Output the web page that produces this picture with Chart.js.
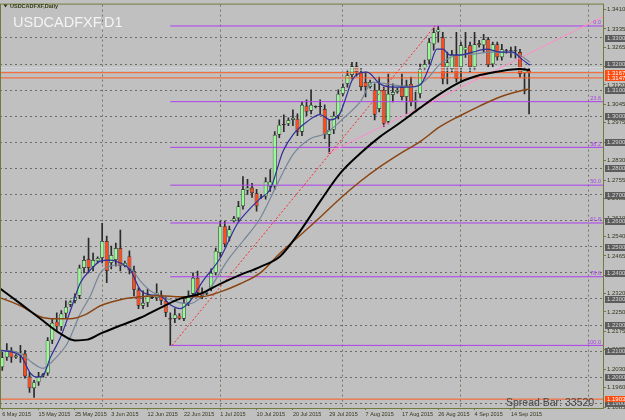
<!DOCTYPE html>
<html><head><meta charset="utf-8">
<script src="https://cdn.jsdelivr.net/npm/chart.js@4.4.1/dist/chart.umd.min.js"></script>
<style>html,body{margin:0;padding:0;background:#c0c0c0;overflow:hidden}canvas{display:block}</style>
</head><body>
<canvas id="c" width="625" height="420"></canvas>
<script>
// ---- candles (bar index 0 = 6 May 2015, daily incl. Sunday bars) ----
const openP = [1.2038,1.2076,1.2103,1.2076,1.2083,1.2091,1.2003,1.1958,1.1981,1.2003,
1.2015,1.2141,1.2213,1.2194,1.2244,1.2278,1.2293,1.2312,1.2419,1.2453,
1.2423,1.2445,1.2457,1.2522,1.2438,1.2449,1.2495,1.2426,1.2464,1.2407,
1.2335,1.2274,1.2285,1.2308,1.2304,1.2316,1.2293,1.2228,1.2224,1.2236,
1.2224,1.2285,1.2320,1.2381,1.2324,1.2320,1.2339,1.2400,1.2476,1.2579,
1.2537,1.2598,1.2609,1.2655,1.2716,1.2727,1.2705,1.2689,1.2693,1.2731,
1.2731,1.2929,1.2967,1.2971,1.2986,1.2990,1.2941,1.3040,1.3021,1.3036,
1.3036,1.3028,1.2929,1.2948,1.3002,1.3086,1.3124,1.3158,1.3192,1.3169,
1.3131,1.3112,1.3101,1.3028,1.3101,1.2979,1.3082,1.3093,1.3112,1.3074,
1.3124,1.3055,1.3086,1.3185,1.3215,1.3276,1.3322,1.3303,1.3188,1.3181,
1.3238,1.3188,1.3253,1.3272,1.3188,1.3280,1.3272,1.3295,1.3200,1.3276,
1.3226,1.3249,1.3249,1.3249,1.3246,1.3165,1.3177];
const highP = [1.2095,1.2129,1.2114,1.2087,1.2122,1.2103,1.2019,1.1988,1.2019,1.2015,
1.2152,1.2224,1.2247,1.2255,1.2293,1.2293,1.2320,1.2430,1.2464,1.2533,
1.2476,1.2461,1.2590,1.2541,1.2503,1.2514,1.2564,1.2445,1.2484,1.2426,
1.2343,1.2331,1.2339,1.2312,1.2358,1.2331,1.2308,1.2247,1.2263,1.2244,
1.2301,1.2331,1.2400,1.2407,1.2343,1.2327,1.2415,1.2495,1.2598,1.2598,
1.2579,1.2617,1.2674,1.2769,1.2758,1.2743,1.2720,1.2701,1.2765,1.2796,
1.2941,1.2986,1.3006,1.2994,1.3025,1.3009,1.3055,1.3063,1.3101,1.3040,
1.3063,1.3044,1.2986,1.3017,1.3101,1.3124,1.3177,1.3207,1.3207,1.3185,
1.3169,1.3139,1.3124,1.3150,1.3112,1.3162,1.3124,1.3108,1.3162,1.3139,
1.3150,1.3093,1.3200,1.3215,1.3299,1.3338,1.3346,1.3322,1.3246,1.3253,
1.3322,1.3284,1.3322,1.3284,1.3322,1.3291,1.3314,1.3303,1.3284,1.3284,
1.3276,1.3257,1.3265,1.3268,1.3257,1.3188,1.3185];
const lowP = [1.2026,1.2064,1.2057,1.2072,1.2057,1.1996,1.1942,1.1923,1.1969,1.2000,
1.2007,1.2129,1.2179,1.2179,1.2224,1.2270,1.2285,1.2301,1.2400,1.2400,
1.2407,1.2438,1.2438,1.2362,1.2415,1.2426,1.2407,1.2423,1.2396,1.2312,
1.2263,1.2263,1.2270,1.2301,1.2293,1.2278,1.2232,1.2122,1.2209,1.2221,
1.2217,1.2274,1.2308,1.2312,1.2301,1.2316,1.2331,1.2392,1.2461,1.2499,
1.2522,1.2594,1.2598,1.2644,1.2701,1.2689,1.2636,1.2685,1.2682,1.2712,
1.2720,1.2918,1.2941,1.2964,1.2964,1.2926,1.2926,1.3002,1.3009,1.3032,
1.3009,1.2914,1.2857,1.2933,1.2990,1.3078,1.3112,1.3143,1.3154,1.3101,
1.3074,1.3108,1.2986,1.3017,1.2960,1.2971,1.3055,1.3089,1.3063,1.3009,
1.3040,1.3017,1.3070,1.3177,1.3200,1.3253,1.3284,1.3124,1.3124,1.3169,
1.3131,1.3131,1.3226,1.3169,1.3177,1.3265,1.3246,1.3188,1.3188,1.3215,
1.3215,1.3242,1.3226,1.3223,1.3150,1.3086,1.3009];
const closeP = [1.2076,1.2103,1.2076,1.2083,1.2095,1.2003,1.1958,1.1981,1.2003,1.2011,
1.2141,1.2209,1.2194,1.2244,1.2270,1.2289,1.2308,1.2419,1.2449,1.2419,
1.2449,1.2457,1.2522,1.2407,1.2468,1.2495,1.2426,1.2438,1.2411,1.2335,
1.2274,1.2285,1.2316,1.2304,1.2324,1.2293,1.2247,1.2221,1.2240,1.2224,
1.2285,1.2312,1.2381,1.2324,1.2312,1.2324,1.2400,1.2484,1.2579,1.2510,
1.2567,1.2609,1.2655,1.2720,1.2727,1.2705,1.2655,1.2693,1.2750,1.2750,
1.2929,1.2967,1.2967,1.2986,1.2994,1.2941,1.3044,1.3017,1.3044,1.3036,
1.3036,1.2929,1.2948,1.3002,1.3086,1.3112,1.3158,1.3192,1.3169,1.3112,
1.3112,1.3131,1.3006,1.3101,1.2971,1.3086,1.3093,1.3101,1.3074,1.3120,
1.3055,1.3063,1.3181,1.3200,1.3284,1.3322,1.3333,1.3143,1.3207,1.3238,
1.3143,1.3272,1.3265,1.3188,1.3276,1.3272,1.3295,1.3196,1.3276,1.3226,
1.3257,1.3249,1.3249,1.3249,1.3162,1.3177,1.3167];

// ---- moving averages [bar index, price] ----
const maFast = [[-0.4,1.2103],[4,1.2083],[6.2,1.2015],[7.7,1.2000],[9,1.2007],[10.6,1.2076],[12.8,1.2152],[15,1.2255],[17.2,1.2362],[19.4,1.2411],[21.6,1.2445],[23.8,1.2449],[26,1.2438],[28.2,1.2411],[30.4,1.2335],[32.6,1.2316],[34.8,1.2312],[37,1.2278],[39.2,1.2263],[41.4,1.2293],[44.2,1.2369],[48,1.2457],[51.7,1.2586],[54.6,1.2647],[56.8,1.2685],[59,1.2720],[61.8,1.2865],[64,1.2929],[67.1,1.2979],[70,1.3006],[72.2,1.2986],[74.4,1.3012],[75.5,1.3063],[77.2,1.3143],[80.3,1.3169],[83.2,1.3124],[86,1.3112],[89.1,1.3112],[92,1.3120],[94.2,1.3196],[95.7,1.3257],[97,1.3257],[98.6,1.3234],[100.8,1.3234],[103.6,1.3246],[106.7,1.3257],[109.6,1.3246],[112.4,1.3246],[114.4,1.3219],[116.2,1.3196]];
const maSlow = [[-0.4,1.2103],[4,1.2091],[6.8,1.2053],[9,1.2034],[11.2,1.2064],[14.3,1.2129],[17.2,1.2244],[19.4,1.2312],[21.6,1.2400],[23.8,1.2426],[26,1.2430],[28.2,1.2419],[30.4,1.2369],[32.6,1.2331],[34.8,1.2312],[37,1.2297],[39.2,1.2285],[41.4,1.2282],[43.6,1.2304],[45.8,1.2343],[49.5,1.2445],[53,1.2522],[56.8,1.2609],[60.5,1.2739],[64,1.2853],[67.8,1.2914],[71.1,1.2933],[75.5,1.2998],[78.8,1.3055],[81.6,1.3131],[86,1.3120],[90.4,1.3112],[93.5,1.3143],[96.4,1.3200],[100.1,1.3234],[103.6,1.3238],[107.4,1.3246],[111.1,1.3246],[114,1.3234],[116.2,1.3207]];
const maBlack = [[-0.4,1.2339],[4,1.2282],[8.4,1.2224],[12.8,1.2167],[16,1.2141],[18.7,1.2144],[21.6,1.2167],[26,1.2198],[30.4,1.2228],[34.8,1.2266],[39.2,1.2301],[43.6,1.2320],[48,1.2358],[52.4,1.2392],[56.8,1.2423],[61.2,1.2464],[65.6,1.2560],[70,1.2674],[74.4,1.2781],[78.8,1.2857],[83.2,1.2922],[87.6,1.2975],[92,1.3032],[96.4,1.3086],[100.8,1.3131],[105.2,1.3158],[109.6,1.3173],[114,1.3181],[116.2,1.3177]];
const maBrown = [[-0.4,1.2304],[4,1.2274],[8.4,1.2232],[11.7,1.2224],[15,1.2224],[18.3,1.2240],[21.6,1.2274],[26,1.2297],[30.4,1.2308],[34.8,1.2312],[39.2,1.2308],[43.6,1.2308],[48,1.2327],[52.4,1.2358],[56.8,1.2400],[61.2,1.2476],[65.6,1.2544],[70,1.2613],[74.4,1.2685],[78.8,1.2750],[83.2,1.2807],[87.6,1.2857],[92,1.2903],[96.4,1.2960],[100.8,1.3002],[105.2,1.3040],[109.6,1.3074],[114,1.3097],[116.2,1.3105]];

// ---- objects ----
const fibLevels = [1.3346,1.3056,1.2881,1.2736,1.2591,1.2385,1.2122];
const fibNames = ['0.0','23.6','38.2','50.0','61.8','78.6','100.0'];
const fibStart = 37;
const fibTrend = [[37.4,1.2122],[95.3,1.3346]];
const pinkTrend = [[71.6,1.2857],[132.5,1.3383]];
const orangeLines = [1.3167,1.3147,1.1916];
const orangeTags = ['1.3167','1.3147','1.1903'];
const paleLines = [1.3186,1.3177];
const roundLevels = [1.33,1.32,1.31,1.30,1.29,1.28,1.27,1.26,1.25,1.24,1.23,1.22,1.21,1.20,1.19];
const priceTicks = [1.3410,1.3335,1.3265,1.3190,1.3120,1.3045,1.2975,1.2900,1.2830,1.2755,1.2685,1.2610,1.2540,1.2465,1.2390,1.2320,1.2250,1.2175,1.2105,1.2030,1.1960,1.1885];
const dateTickIdx = [0,8,16,24,32,40,48,56,64,72,80,88,96,104,112];
const dateTickLabels = ['6 May 2015','15 May 2015','25 May 2015','3 Jun 2015','12 Jun 2015','22 Jun 2015','1 Jul 2015','10 Jul 2015','20 Jul 2015','29 Jul 2015','7 Aug 2015','17 Aug 2015','26 Aug 2015','4 Sep 2015','14 Sep 2015'];
const monthIdx = [22,48,75,101,129];

const FONT = '"Liberation Sans", Arial, sans-serif';
const OLIVE = '#6f7d3c';
const TXT = '#34361e';
const BULL = '#96fa96', BEAR = '#ff4a1c';

const pts = a => a.map(p => ({x: p[0], y: p[1]}));
const hline = (v, s, e) => [{x: s, y: v}, {x: e, y: v}];

const wickData = lowP.map((l, i) => ({x: i, y: [l, highP[i]]}));
const bodyData = openP.map((o, i) => ({x: i, y: [o, closeP[i]]}));
const bodyColor = ctx => {
  const i = ctx.dataIndex;
  if (closeP[i] > openP[i]) return BULL;
  if (closeP[i] < openP[i]) return BEAR;
  return '#202020';
};

const datasets = [
  {type:'line', data: pts(maBlack), borderColor:'#000000', borderWidth:2, pointRadius:0, cubicInterpolationMode:'monotone', order:0},
  {type:'line', data: pts(maBrown), borderColor:'#8b4513', borderWidth:1.5, pointRadius:0, cubicInterpolationMode:'monotone', order:0},
  {type:'line', data: pts(maFast), borderColor:'#2e2e9a', borderWidth:1.2, pointRadius:0, cubicInterpolationMode:'monotone', order:0},
  {type:'line', data: pts(maSlow), borderColor:'#74869a', borderWidth:1.2, pointRadius:0, cubicInterpolationMode:'monotone', order:0},
  {type:'line', data: pts(fibTrend), borderColor:'#ff2a2a', borderWidth:1, borderDash:[2,2], pointRadius:0, order:1},
  {type:'line', data: pts(pinkTrend), borderColor:'#ff8cc8', borderWidth:1, pointRadius:0, order:1},
];
fibLevels.forEach(v => datasets.push({type:'line', data: hline(v, fibStart, 132.5), borderColor:'#ac3eee', borderWidth:1, pointRadius:0, order:1}));
paleLines.forEach(v => datasets.push({type:'line', data: hline(v, -0.5, 132.5), borderColor:'#d6dae2', borderWidth:1, pointRadius:0, order:1}));
orangeLines.forEach(v => datasets.push({type:'line', data: hline(v, -0.5, 132.5), borderColor:'#ff5a20', borderWidth:1, pointRadius:0, order:1}));
datasets.push({type:'bar', data: bodyData, grouped:false, barPercentage:0.88, categoryPercentage:1,
  backgroundColor: bodyColor, borderColor:'#2a2a2a', borderWidth:0.7, borderSkipped:false, minBarLength:1, order:2});
datasets.push({type:'bar', data: wickData, grouped:false, maxBarThickness:1, barPercentage:1, categoryPercentage:1,
  backgroundColor:'#2a2a2a', borderWidth:0, order:3});

const deco = {
  id:'deco',
  beforeDraw(chart){
    const c = chart.ctx; c.save(); c.fillStyle = '#c0c0c0'; c.fillRect(0,0,chart.width,chart.height); c.restore();
  },
  afterDraw(chart){
    const {ctx, chartArea:a, scales} = chart;
    const y = scales.y;
    ctx.save();
    // fib labels
    ctx.font = '5.5px ' + FONT; ctx.fillStyle = '#a83ee8'; ctx.textAlign = 'right'; ctx.textBaseline = 'bottom';
    fibLevels.forEach((v, i) => ctx.fillText(fibNames[i], a.right - 3, y.getPixelForValue(v) - 0.5));
    // round level boxes
    ctx.font = '6px ' + FONT; ctx.textAlign = 'left'; ctx.textBaseline = 'middle';
    roundLevels.forEach(v => {
      const py = Math.round(y.getPixelForValue(v));
      ctx.fillStyle = '#5c5c5c'; ctx.fillRect(a.right + 1, py - 3, 21, 7);
      ctx.fillStyle = '#d8d8d8'; ctx.fillText(v.toFixed(4), a.right + 3, py + 0.5);
    });
    orangeLines.forEach((v, i) => {
      const py = Math.round(y.getPixelForValue(v));
      ctx.fillStyle = '#ff4a10'; ctx.fillRect(a.right + 1, py - 3, 21, 6);
      ctx.fillStyle = '#ffffff'; ctx.fillText(orangeTags[i], a.right + 3, py);
    });
    // frame
    ctx.strokeStyle = OLIVE; ctx.lineWidth = 1;
    ctx.strokeRect(a.left + 0.5, a.top - 0.5, a.right - a.left - 1, a.bottom - a.top + 1);
    // header
    ctx.fillStyle = '#2f3a10';
    ctx.beginPath(); ctx.moveTo(3.5, 4.5); ctx.lineTo(7.5, 4.5); ctx.lineTo(5.5, 7.5); ctx.closePath(); ctx.fill();
    ctx.font = 'bold 5.5px ' + FONT; ctx.textAlign = 'left'; ctx.textBaseline = 'alphabetic';
    ctx.fillText('USDCADFXF,Daily', 10, 8);
    ctx.fillStyle = '#f4f4f4'; ctx.font = '14.5px ' + FONT;
    ctx.fillText('USDCADFXF,D1', 13, 27);
    ctx.fillStyle = '#454545'; ctx.font = '10.5px ' + FONT;
    ctx.fillText('Spread Bar: 33520', 506, 406);
    ctx.restore();
  }
};

new Chart(document.getElementById('c'), {
  type:'bar',
  data:{datasets},
  plugins:[deco],
  options:{
    responsive:false, animation:false, devicePixelRatio:1,
    layout:{padding:{top:2,left:0,right:0,bottom:0}, autoPadding:false},
    plugins:{legend:{display:false}, tooltip:{enabled:false}},
    elements:{line:{tension:0}},
    scales:{
      x:{type:'linear', position:'bottom', min:-0.5, max:132.5, offset:false,
        afterBuildTicks: s => { s.ticks = dateTickIdx.map(v => ({value:v})); },
        afterFit: s => { s.height = 12; },
        ticks:{autoSkip:false, maxRotation:0, minRotation:0, align:'start', padding:1, color:TXT,
          font:{size:5.5, family:FONT},
          callback: v => { const k = dateTickIdx.indexOf(v); return k >= 0 ? dateTickLabels[k] : ''; }},
        grid:{offset:false, drawOnChartArea:false, drawTicks:true, tickLength:2, color:OLIVE},
        border:{display:false}},
      xg:{type:'linear', position:'bottom', min:-0.5, max:132.5, offset:false,
        afterBuildTicks: s => { s.ticks = monthIdx.map(v => ({value:v})); },
        afterFit: s => { s.height = 0; },
        ticks:{display:false}, grid:{offset:false, drawTicks:false, color:'#74765e', lineWidth:1},
        border:{display:false, dash:[2,3]}},
      y:{type:'linear', position:'right', min:1.1882, max:1.3428, beginAtZero:false,
        afterBuildTicks: s => { s.ticks = priceTicks.map(v => ({value:v})); },
        afterFit: s => { s.width = 21; },
        ticks:{autoSkip:false, padding:1, color:TXT, font:{size:6, family:FONT}, callback: v => v.toFixed(4)},
        grid:{drawOnChartArea:false, drawTicks:true, tickLength:2, color:OLIVE},
        border:{display:false}},
      yg:{type:'linear', position:'right', min:1.1882, max:1.3428, beginAtZero:false,
        afterBuildTicks: s => { s.ticks = roundLevels.map(v => ({value:v})); },
        afterFit: s => { s.width = 0; },
        ticks:{display:false}, grid:{drawTicks:false, color:'#6c6c6c', lineWidth:1},
        border:{display:false, dash:[2,3]}}
    }
  }
});
</script>
</body></html>
